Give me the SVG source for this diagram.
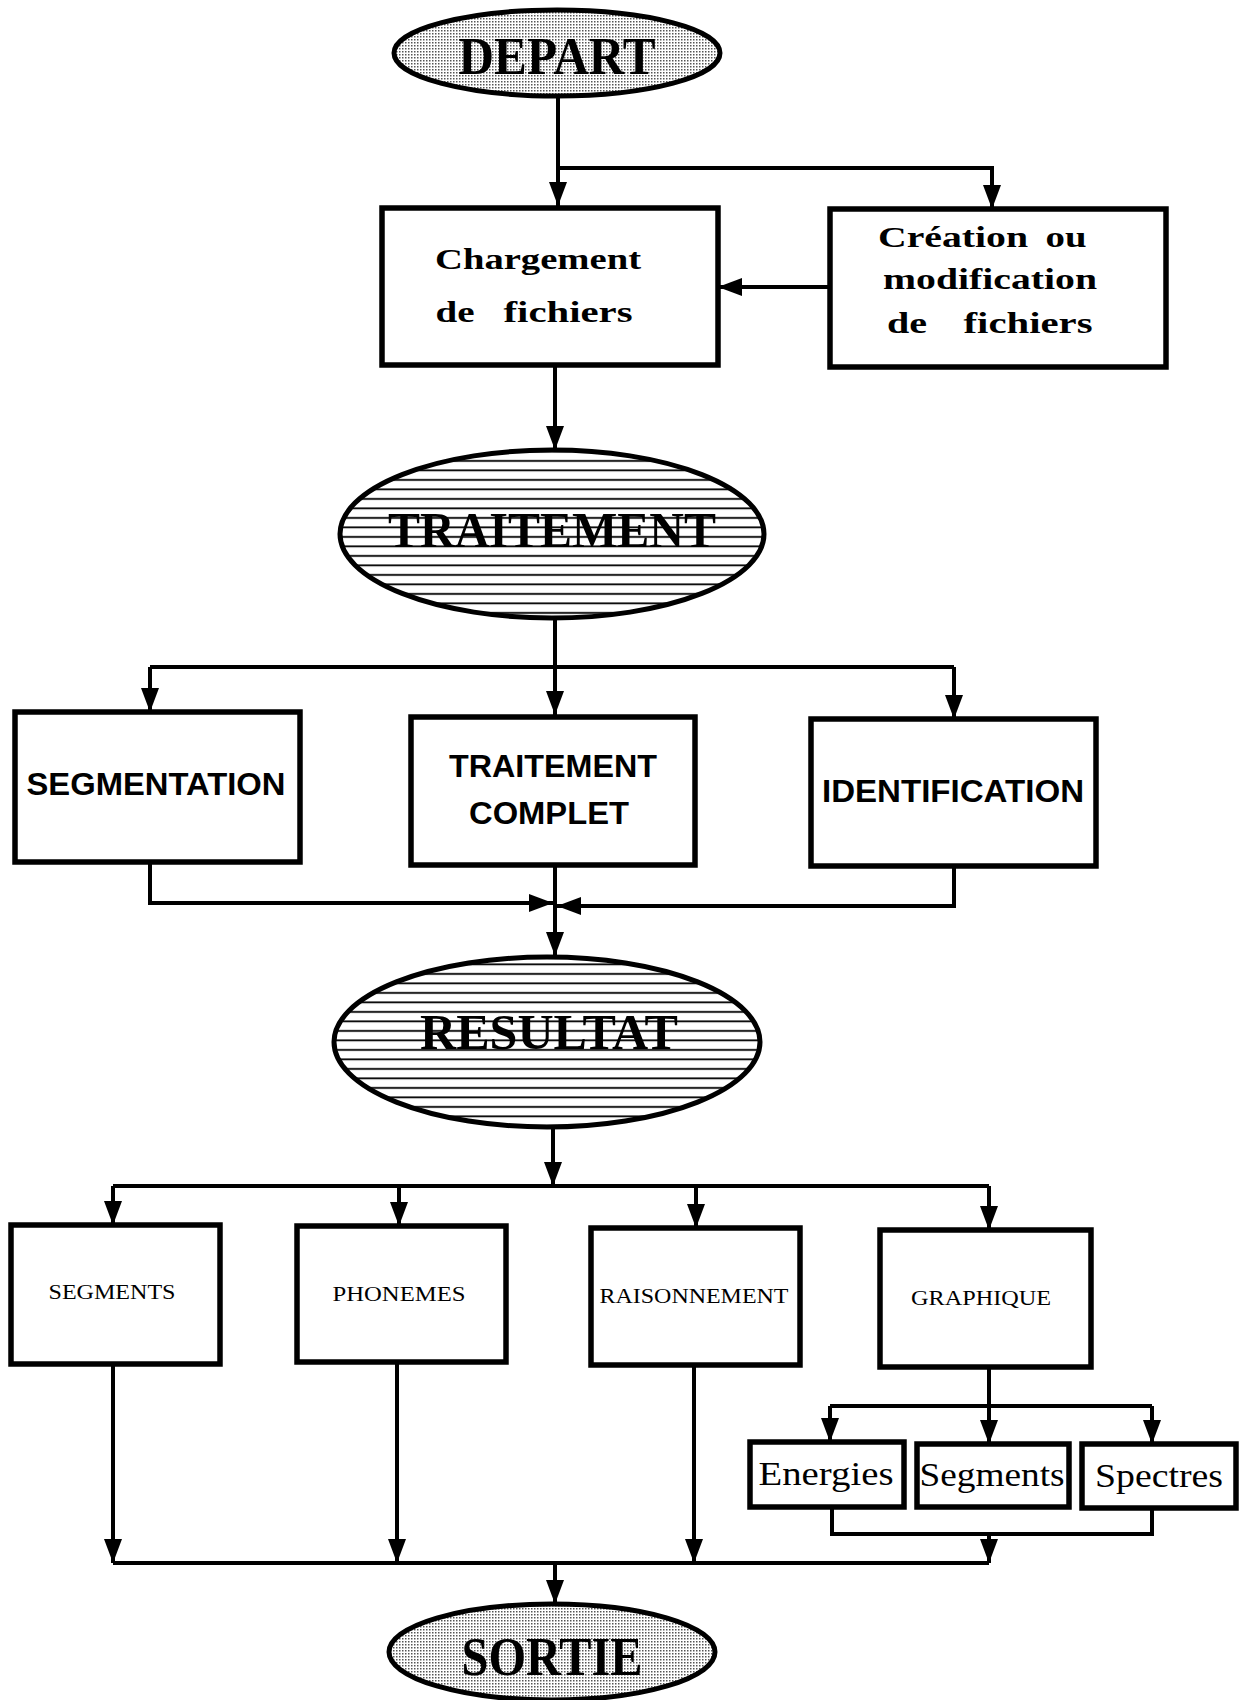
<svg xmlns="http://www.w3.org/2000/svg" width="1239" height="1700" viewBox="0 0 1239 1700">
<style>
.box{fill:#fff;stroke:#000;stroke-width:5.5}
.ell{stroke:#000;stroke-width:5}
.con{fill:none;stroke:#000;stroke-width:4}
.big{font-family:"Liberation Serif",serif;font-weight:bold;fill:#000;text-anchor:middle}
.school{font-family:"Liberation Serif",serif;font-weight:bold;font-size:30px;fill:#000;text-anchor:middle}
.sans{font-family:"Liberation Sans",Arial,sans-serif;font-weight:bold;font-size:32px;fill:#000;text-anchor:middle}
.small{font-family:"Liberation Serif",serif;font-size:20px;fill:#000;text-anchor:middle}
.sub{font-family:"Liberation Serif",serif;font-size:34px;fill:#000;text-anchor:middle}
</style>
<defs>
<pattern id="dots" width="3" height="3" patternUnits="userSpaceOnUse">
<rect width="3" height="3" fill="#fff"/>
<rect width="1.5" height="1.5" fill="#555"/>
</pattern>
<pattern id="lines" width="10" height="9.5" patternUnits="userSpaceOnUse">
<rect width="10" height="9.5" fill="#fff"/>
<rect y="4" width="10" height="1.8" fill="#000"/>
</pattern>
<marker id="arr" markerUnits="userSpaceOnUse" markerWidth="24" markerHeight="18" refX="24" refY="9" orient="auto" viewBox="0 0 24 18">
<path d="M0,0 L24,9 L0,18 Z" fill="#000"/>
</marker>
</defs>

<g id="connectors">
<path class="con" d="M558,97 V206" marker-end="url(#arr)"/>
<path class="con" d="M558,168 H992 V209" marker-end="url(#arr)"/>
<path class="con" d="M830,287 H718" marker-end="url(#arr)"/>
<path class="con" d="M555,365 V450" marker-end="url(#arr)"/>
<path class="con" d="M555,618 V715" marker-end="url(#arr)"/>
<path class="con" d="M150,667 H954"/>
<path class="con" d="M150,667 V712" marker-end="url(#arr)"/>
<path class="con" d="M954,667 V719" marker-end="url(#arr)"/>
<path class="con" d="M150,862 V903 H553" marker-end="url(#arr)"/>
<path class="con" d="M954,866 V906 H557" marker-end="url(#arr)"/>
<path class="con" d="M555,865 V956" marker-end="url(#arr)"/>
<path class="con" d="M553,1127 V1186" marker-end="url(#arr)"/>
<path class="con" d="M113,1186 H989"/>
<path class="con" d="M113,1186 V1225" marker-end="url(#arr)"/>
<path class="con" d="M399,1186 V1226" marker-end="url(#arr)"/>
<path class="con" d="M696,1186 V1228" marker-end="url(#arr)"/>
<path class="con" d="M989,1186 V1230" marker-end="url(#arr)"/>
<path class="con" d="M113,1364 V1563" marker-end="url(#arr)"/>
<path class="con" d="M397,1362 V1563" marker-end="url(#arr)"/>
<path class="con" d="M694,1365 V1563" marker-end="url(#arr)"/>
<path class="con" d="M989,1367 V1406"/>
<path class="con" d="M830,1406 H1152"/>
<path class="con" d="M830,1406 V1442" marker-end="url(#arr)"/>
<path class="con" d="M989,1406 V1444" marker-end="url(#arr)"/>
<path class="con" d="M1152,1406 V1444" marker-end="url(#arr)"/>
<path class="con" d="M832,1507 V1534 H1152 V1508"/>
<path class="con" d="M989,1534 V1563" marker-end="url(#arr)"/>
<path class="con" d="M113,1563 H989"/>
<path class="con" d="M555,1563 V1604" marker-end="url(#arr)"/>
</g>

<g id="depart">
<ellipse class="ell" cx="557" cy="53" rx="163" ry="43" fill="url(#dots)"/>
<text class="big" x="557" y="74" font-size="52" textLength="197" lengthAdjust="spacingAndGlyphs">DEPART</text>
</g>

<g id="chargement">
<rect class="box" x="382" y="208" width="336" height="157"/>
<text class="school" x="538" y="269" textLength="206" lengthAdjust="spacingAndGlyphs">Chargement</text>
<text class="school" x="455" y="322" textLength="39" lengthAdjust="spacingAndGlyphs">de</text>
<text class="school" x="568" y="322" textLength="129" lengthAdjust="spacingAndGlyphs">fichiers</text>
</g>

<g id="creation">
<rect class="box" x="830" y="209" width="336" height="158"/>
<text class="school" x="953" y="247" textLength="150" lengthAdjust="spacingAndGlyphs">Création</text>
<text class="school" x="1066" y="247" textLength="41" lengthAdjust="spacingAndGlyphs">ou</text>
<text class="school" x="990" y="289" textLength="214" lengthAdjust="spacingAndGlyphs">modification</text>
<text class="school" x="907" y="333" textLength="40" lengthAdjust="spacingAndGlyphs">de</text>
<text class="school" x="1028" y="333" textLength="129" lengthAdjust="spacingAndGlyphs">fichiers</text>
</g>

<g id="traitement">
<ellipse class="ell" cx="552" cy="534" rx="212" ry="84" fill="url(#lines)"/>
<text class="big" x="552" y="547" font-size="50" textLength="328" lengthAdjust="spacingAndGlyphs">TRAITEMENT</text>
</g>

<g id="segmentation">
<rect class="box" x="15" y="712" width="285" height="150"/>
<text class="sans" x="156" y="795" textLength="259" lengthAdjust="spacingAndGlyphs">SEGMENTATION</text>
</g>

<g id="traitement-complet">
<rect class="box" x="411" y="717" width="284" height="148"/>
<text class="sans" x="553" y="777" textLength="208" lengthAdjust="spacingAndGlyphs">TRAITEMENT</text>
<text class="sans" x="549" y="824" textLength="160" lengthAdjust="spacingAndGlyphs">COMPLET</text>
</g>

<g id="identification">
<rect class="box" x="811" y="719" width="285" height="147"/>
<text class="sans" x="953" y="802" textLength="262" lengthAdjust="spacingAndGlyphs">IDENTIFICATION</text>
</g>

<g id="resultat">
<ellipse class="ell" cx="547" cy="1042" rx="213" ry="85" fill="url(#lines)"/>
<text class="big" x="549" y="1049" font-size="50" textLength="258" lengthAdjust="spacingAndGlyphs">RESULTAT</text>
</g>

<g id="segments">
<rect class="box" x="11" y="1225" width="209" height="139"/>
<text class="small" x="112" y="1299" textLength="127" lengthAdjust="spacingAndGlyphs">SEGMENTS</text>
</g>

<g id="phonemes">
<rect class="box" x="297" y="1226" width="209" height="136"/>
<text class="small" x="399" y="1301" textLength="133" lengthAdjust="spacingAndGlyphs">PHONEMES</text>
</g>

<g id="raisonnement">
<rect class="box" x="591" y="1228" width="209" height="137"/>
<text class="small" x="694" y="1303" textLength="189" lengthAdjust="spacingAndGlyphs">RAISONNEMENT</text>
</g>

<g id="graphique">
<rect class="box" x="880" y="1230" width="211" height="137"/>
<text class="small" x="981" y="1305" textLength="140" lengthAdjust="spacingAndGlyphs">GRAPHIQUE</text>
</g>

<g id="energies">
<rect class="box" x="750" y="1442" width="154" height="65"/>
<text class="sub" x="826" y="1485" textLength="135" lengthAdjust="spacingAndGlyphs">Energies</text>
</g>

<g id="segments-g">
<rect class="box" x="917" y="1444" width="152" height="63"/>
<text class="sub" x="992" y="1486" textLength="145" lengthAdjust="spacingAndGlyphs">Segments</text>
</g>

<g id="spectres">
<rect class="box" x="1082" y="1444" width="154" height="64"/>
<text class="sub" x="1159" y="1487" textLength="128" lengthAdjust="spacingAndGlyphs">Spectres</text>
</g>

<g id="sortie">
<ellipse class="ell" cx="552" cy="1652" rx="163" ry="48" fill="url(#dots)"/>
<text class="big" x="552" y="1675" font-size="54" textLength="181" lengthAdjust="spacingAndGlyphs">SORTIE</text>
</g>
</svg>
